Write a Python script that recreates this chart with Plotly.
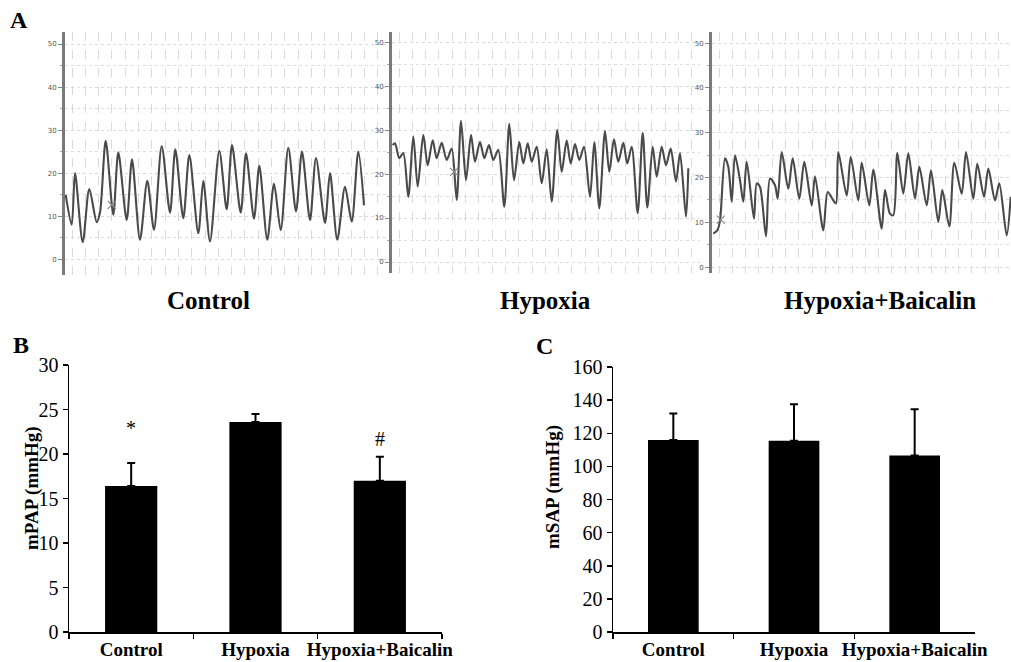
import plotly.graph_objects as go

W, H = 1011, 662

# ---------------- Panel A : pressure traces (time in a.u., pressure in mmHg) ----------------
ctrl_t = [0.7, 6.7, 10, 17.7, 24.3, 31.7, 35, 40.7, 48.3, 53.3, 61.7, 67, 75, 82.3, 89, 96.7,
          105, 110.3, 118.3, 124.3, 133.3, 138.3, 145, 154.3, 161.7, 167, 175.7, 181, 189,
          194.3, 202.3, 209, 215.7, 223.3, 231, 237, 245, 251, 260, 265, 272.3, 280, 286.7,
          293.3, 299]
ctrl_p = [14.9, 8, 20, 3.9, 16.3, 8.6, 10.8, 27.5, 10.3, 24.8, 9.1, 23.2, 4.5, 18.2, 6.8, 26.3,
          10.8, 25.5, 9.5, 24.2, 6, 18.2, 4.1, 25.2, 11.6, 26.5, 10.8, 24.6, 9.4, 21.7, 4.5,
          17.5, 6.7, 25.9, 11.1, 25, 9.1, 23.5, 8.4, 20, 4.5, 16.8, 8.7, 25, 12.5]

hyp_t = [0.7, 3, 7.3, 11.3, 16.3, 21.3, 25.7, 31.3, 35.7, 40.7, 44.7, 49.7, 54.7, 59.7, 64.7,
         69, 74, 79, 83, 88, 92.3, 97, 101.3, 106.3, 112.3, 117.3, 122, 127.3, 131.3, 135.7,
         139.7, 144.7, 149.7, 154.7, 159.7, 165.3, 169.7, 174.7, 178.7, 183, 187.3, 192, 198,
         202.3, 207.3, 213, 217.3, 222, 226.3, 231.3, 235.3, 239.7, 245.7, 250.7, 255.3,
         260.7, 264.7, 269.7, 274, 278.7, 284, 288, 294, 296.3]
hyp_p = [26.6, 27, 23.6, 24.8, 14.8, 28.6, 17.1, 28.9, 22, 27.7, 23.6, 27.1, 23.2, 25.8, 14.1,
         32.1, 18.6, 28.9, 22.8, 27.3, 23.6, 26.6, 23.2, 25.5, 12.6, 31.4, 18.6, 27.3, 22.4, 27,
         22.8, 26.2, 17.9, 25.6, 13.7, 30, 20.5, 27.6, 22.4, 26.8, 23.2, 26.2, 14.8, 27.3, 12.2,
         29.8, 20.5, 27.9, 22.8, 27.1, 22.4, 26.2, 11.1, 29.4, 12.4, 26.2, 19.4, 26.2, 22, 25.8,
         18.3, 24.8, 10.3, 21.3]

bai_t = [1.3, 5.3, 8, 13, 16.3, 19.7, 23, 28, 31.3, 34.7, 42, 44.7, 48, 54, 58, 63, 65.7, 69.7,
         76.3, 80.7, 87.3, 92.3, 99.7, 103, 111.3, 115.7, 121.3, 124, 126.3, 134.7, 138.7,
         146.3, 149.7, 157.3, 161.3, 169.7, 173, 178, 181.3, 185.3, 191.3, 196.3, 203, 207.3,
         214.7, 219, 226.3, 230.3, 237.3, 242.3, 249.7, 254, 261.3, 265.3, 272, 276.3, 283,
         287.3, 294.7, 298.7]
bai_p = [7.5, 8.2, 10.4, 24.3, 22.4, 14.6, 25, 19.4, 14.6, 23.5, 10.8, 18.7, 17.9, 6.9, 19.8,
         18.3, 15.3, 25.7, 17.5, 24.3, 15.3, 23.5, 13.8, 20.3, 8.2, 16.8, 14.9, 14.2, 25.7, 16,
         24.6, 14.9, 23.3, 13.8, 21.8, 8.6, 17.2, 11.9, 11.6, 25.5, 16.4, 25.4, 15.3, 22.4, 13.8,
         21.6, 10.1, 17.2, 9.1, 23.3, 16.4, 25.7, 15.3, 23.1, 15.7, 22, 14.9, 18.7, 7.1, 15.7]

# cursor marks on the traces
cursor_t = [46.7, 62, 8.7]
cursor_p = [12.6, 20.5, 10.6]

trace_names = ["Control", "Hypoxia", "Hypoxia+Baicalin"]

# ---------------- Panels B and C : bar charts ----------------
groups = ["Control", "Hypoxia", "Hypoxia+Baicalin"]
mpap_mean = [16.4, 23.6, 17.0]
mpap_sd = [2.6, 0.9, 2.7]
msap_mean = [116, 115.5, 106.5]
msap_sd = [16, 22, 28]
mpap_marks = ["*", "", "#"]
mpap_mark_y = [22.9, None, 21.7]


def px(x):
    return x / W


def py(y):
    return 1 - y / H


SERIF = "Liberation Serif, Times New Roman, serif"

fig = go.Figure()

trace_sets = [(ctrl_t, ctrl_p), (hyp_t, hyp_p), (bai_t, bai_p)]
# panel geometry (pixels): left, right, top, bottom ; ranges
geo = [
    dict(l=65, r=388, t=32, b=275, yr=[-3.7, 52.8], xr=[0, 323]),
    dict(l=392, r=700, t=32, b=273, yr=[-2.5, 52.3], xr=[0, 308]),
    dict(l=712, r=1011, t=32, b=273, yr=[-1.3, 52.5], xr=[0, 299]),
]

for i, ((tt, pp), g) in enumerate(zip(trace_sets, geo)):
    n = i + 1
    xa = "x" if n == 1 else f"x{n}"
    ya = "y" if n == 1 else f"y{n}"
    fig.add_trace(go.Scatter(x=tt, y=pp, mode="lines", xaxis=xa, yaxis=ya,
                             line=dict(color="#4a4a4a", width=2.1, shape="spline", smoothing=0.8),
                             hoverinfo="skip"))
    fig.add_trace(go.Scatter(x=[cursor_t[i]], y=[cursor_p[i]], mode="markers", xaxis=xa, yaxis=ya,
                             marker=dict(symbol="x-thin-open", size=8, color="#888",
                                         line=dict(color="#888", width=1.2)),
                             hoverinfo="skip"))
    fig.layout[f"xaxis{'' if n == 1 else n}"] = dict(
        domain=[px(g["l"]), px(g["r"])], range=g["xr"], anchor=ya, automargin=False,
        showgrid=True, gridcolor="#dadada", griddash="dash", gridwidth=1,
        tick0=7, dtick=13.3, showticklabels=False, ticks="", zeroline=False, showline=False)
    fig.layout[f"yaxis{'' if n == 1 else n}"] = dict(
        domain=[py(g["b"]), py(g["t"])], range=g["yr"], anchor=xa, automargin=False,
        showgrid=True, gridcolor="#dadada", griddash="dot", gridwidth=1,
        tick0=0, dtick=10, ticks="outside", ticklen=4, tickcolor="#888", tickwidth=1,
        minor=dict(dtick=5, showgrid=True, gridcolor="#dedede", griddash="dot",
                   ticks="outside", ticklen=2, tickcolor="#aaa"),
        tickfont=dict(family="DejaVu Sans, sans-serif", size=7, color="#555"),
        showline=True, linecolor="#7a7a7a", linewidth=3, zeroline=False)

# Panel B
fig.add_trace(go.Bar(x=groups, y=mpap_mean, xaxis="x4", yaxis="y4", width=0.42,
                     marker=dict(color="black", line=dict(width=0)),
                     error_y=dict(type="data", symmetric=False, array=mpap_sd,
                                  arrayminus=[0] * 3, color="black", thickness=2, width=4),
                     hoverinfo="skip"))
# Panel C
fig.add_trace(go.Bar(x=groups, y=msap_mean, xaxis="x5", yaxis="y5", width=0.42,
                     marker=dict(color="black", line=dict(width=0)),
                     error_y=dict(type="data", symmetric=False, array=msap_sd,
                                  arrayminus=[0] * 3, color="black", thickness=2, width=4),
                     hoverinfo="skip"))

bar_x = dict(type="category", range=[-0.5, 2.5], tickson="boundaries", ticks="outside",
             ticklen=5, tickwidth=1.5, tickcolor="black", showline=True, linecolor="black",
             linewidth=1.5, tickangle=0, showgrid=False, zeroline=False, automargin=False,
             tickfont=dict(family=SERIF, size=19, color="black", weight="bold"))
bar_y = dict(ticks="outside", ticklen=5, tickwidth=1.5, tickcolor="black", showline=True,
             linecolor="black", linewidth=1.5, showgrid=False, zeroline=False, automargin=False,
             tickfont=dict(family=SERIF, size=20, color="black"))

fig.update_layout(
    xaxis4=dict(bar_x, domain=[px(69), px(442)], anchor="y4"),
    yaxis4=dict(bar_y, domain=[py(632), py(365)], range=[0, 30], dtick=5, anchor="x4"),
    xaxis5=dict(bar_x, domain=[px(613), px(975)], anchor="y5"),
    yaxis5=dict(bar_y, domain=[py(632), py(367)], range=[0, 160], dtick=20, anchor="x5"),
)

ann = []
for g, m, yv in zip(groups, mpap_marks, mpap_mark_y):
    if m:
        ann.append(dict(x=g, y=yv, xref="x4", yref="y4", text=m, showarrow=False,
                        xanchor="center", yanchor="middle",
                        font=dict(family=SERIF, size=20, color="black")))

label_font = dict(family=SERIF, size=25, color="black", weight="bold")
for name, cx in zip(trace_names, [208, 545, 880]):
    ann.append(dict(x=px(cx), y=py(300), xref="paper", yref="paper", text=name,
                    xanchor="center", yanchor="middle", showarrow=False, font=label_font))

panel_font = dict(family=SERIF, size=24, color="black", weight="bold")
for lab, cx, cy in [("A", 19, 20), ("B", 21, 345), ("C", 544, 346)]:
    ann.append(dict(x=px(cx), y=py(cy), xref="paper", yref="paper", text=lab,
                    xanchor="center", yanchor="middle", showarrow=False, font=panel_font))

title_font = dict(family=SERIF, size=19, color="black", weight="bold")
ann.append(dict(x=px(32), y=py(488), xref="paper", yref="paper", text="mPAP (mmHg)",
                xanchor="center", yanchor="middle",
                textangle=-90, showarrow=False, font=title_font))
ann.append(dict(x=px(553), y=py(487), xref="paper", yref="paper", text="mSAP (mmHg)",
                xanchor="center", yanchor="middle",
                textangle=-90, showarrow=False, font=title_font))

fig.update_layout(width=W, height=H, margin=dict(l=0, r=0, t=0, b=0, autoexpand=False),
                  paper_bgcolor="white", plot_bgcolor="white", showlegend=False,
                  annotations=ann, bargap=0.58, hovermode=False)

fig.write_html("out.html", config={"displayModeBar": False, "staticPlot": True},
               post_script="document.body.style.margin='0px';"
                           "document.body.style.overflow='hidden';")
